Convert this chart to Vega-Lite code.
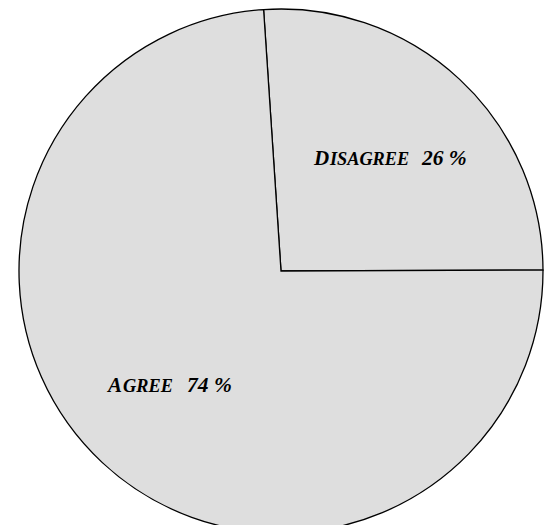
{
  "$schema": "https://vega.github.io/schema/vega-lite/v6.json",
  "width": 526,
  "height": 508,
  "autosize": "none",
  "padding": {"left": 18, "top": 17, "right": 0, "bottom": 0},
  "background": "white",
  "data": {
    "values": [
      {"cat": "Disagree", "value": 26, "ord": 1, "first": "D", "rest": "ISAGREE", "pct": "26 %"},
      {"cat": "Agree", "value": 74, "ord": 2, "first": "A", "rest": "GREE", "pct": "74 %"}
    ]
  },
  "encoding": {
    "theta": {"field": "value", "type": "quantitative", "stack": true, "scale": {"range": [-0.0665, 6.2167]}},
    "order": {"field": "ord", "type": "quantitative"}
  },
  "layer": [
    {
      "mark": {"type": "arc", "radius": 262, "fill": "#dedede", "stroke": "black", "strokeWidth": 1.3}
    },
    {
      "mark": {"type": "text", "radius": 130, "align": "left", "baseline": "alphabetic", "font": "Liberation Serif", "fontStyle": "italic", "fontWeight": "bold", "fontSize": 21, "dx": -55.7, "dy": -10.9, "color": "black"},
      "encoding": {"text": {"condition": {"test": "datum.cat === 'Disagree'", "field": "first"}, "value": ""}}
    },
    {
      "mark": {"type": "text", "radius": 130, "align": "left", "baseline": "alphabetic", "font": "Liberation Serif", "fontStyle": "italic", "fontWeight": "bold", "fontSize": 18.3, "dx": -39.7, "dy": -10.9, "color": "black"},
      "encoding": {"text": {"condition": {"test": "datum.cat === 'Disagree'", "field": "rest"}, "value": ""}}
    },
    {
      "mark": {"type": "text", "radius": 130, "align": "left", "baseline": "alphabetic", "font": "Liberation Serif", "fontStyle": "italic", "fontWeight": "bold", "fontSize": 21.5, "dx": 52.3, "dy": -10.9, "color": "black"},
      "encoding": {"text": {"condition": {"test": "datum.cat === 'Disagree'", "field": "pct"}, "value": ""}}
    },
    {
      "mark": {"type": "text", "radius": 130, "align": "left", "baseline": "alphabetic", "font": "Liberation Serif", "fontStyle": "italic", "fontWeight": "bold", "fontSize": 21, "dx": -84.3, "dy": 25.9, "color": "black"},
      "encoding": {"text": {"condition": {"test": "datum.cat === 'Agree'", "field": "first"}, "value": ""}}
    },
    {
      "mark": {"type": "text", "radius": 130, "align": "left", "baseline": "alphabetic", "font": "Liberation Serif", "fontStyle": "italic", "fontWeight": "bold", "fontSize": 18.3, "dx": -69.3, "dy": 25.9, "color": "black"},
      "encoding": {"text": {"condition": {"test": "datum.cat === 'Agree'", "field": "rest"}, "value": ""}}
    },
    {
      "mark": {"type": "text", "radius": 130, "align": "left", "baseline": "alphabetic", "font": "Liberation Serif", "fontStyle": "italic", "fontWeight": "bold", "fontSize": 21.5, "dx": -5.3, "dy": 25.9, "color": "black"},
      "encoding": {"text": {"condition": {"test": "datum.cat === 'Agree'", "field": "pct"}, "value": ""}}
    }
  ],
  "config": {"view": {"stroke": null}}
}
